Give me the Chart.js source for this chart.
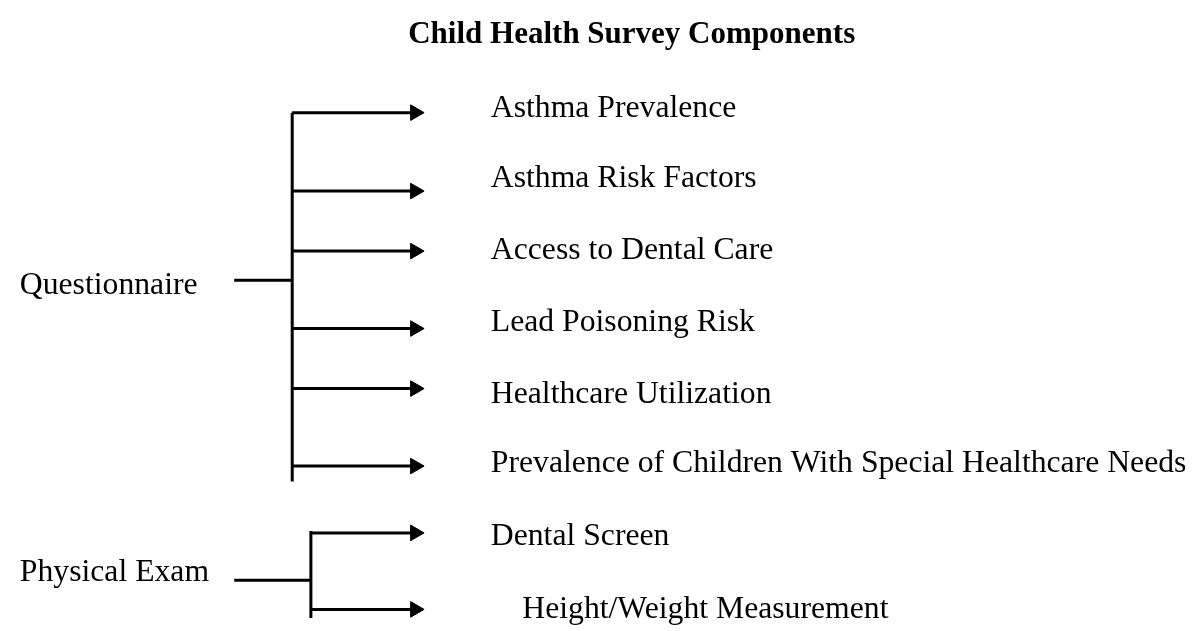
<!DOCTYPE html>
<html>
<head>
<meta charset="utf-8">
<title>Child Health Survey Components</title>
<script src="https://cdn.jsdelivr.net/npm/chart.js@4.4.1/dist/chart.umd.min.js"></script>
<style>
    html, body { margin: 0; padding: 0; background: #fff; }
    #wrap { width: 1196px; height: 631px; }
</style>
</head>
<body>
<div id="wrap"><canvas id="diagram" width="1196" height="631"></canvas></div>
<script>
const chartTitle = 'Child Health Survey Components';

// groups (left side) and the components each one points to
const groups = ['Questionnaire', 'Physical Exam'];
const questionnaireItems = [
    'Asthma Prevalence',
    'Asthma Risk Factors',
    'Access to Dental Care',
    'Lead Poisoning Risk',
    'Healthcare Utilization',
    'Prevalence of Children With Special Healthcare Needs'
];
const physicalItems = ['Dental Screen', 'Height/Weight Measurement'];

// vertical position of every arrow (y axis runs top -> bottom)
const questionnaireRows = [106, 187, 249, 329, 391, 471];
const physicalRows = [540, 619];
const groupRows = [279, 589];
// top / bottom of each bracket
const questionnaireSpan = [106, 487];
const physicalSpan = [538, 628];

// layout bits (kept apart from the data)
const W = 1196, H = 631;
const stubX = 228;
const trunkX = [287, 306];
const tipX = 421;
const headR = 9;
const itemX = 489;
const indentX = [0, 32];          // Height/Weight is pushed a little right
const labelShift = [5, -4, 8, 3, 15, 6, 12, 9];   // baseline below the arrow
const INK = '#000';
const SERIF = '"Liberation Serif", "Times New Roman", serif';

function seg(x1, y1, x2, y2) {
    return {
        type: 'scatter',
        data: [{x: x1, y: y1}, {x: x2, y: y2}],
        showLine: true,
        borderColor: INK,
        borderWidth: 3,
        pointRadius: 0,
        fill: false,
        clip: false
    };
}

const datasets = [];
const rowsByGroup = [questionnaireRows, physicalRows];
const spans = [questionnaireSpan, physicalSpan];
const heads = [];

rowsByGroup.forEach((rows, g) => {
    const tx = trunkX[g];
    datasets.push(seg(stubX, groupRows[g], tx, groupRows[g]));
    datasets.push(seg(tx, spans[g][0], tx, spans[g][1]));
    rows.forEach(y => {
        datasets.push(seg(tx, y, tipX - headR * 1.2, y));
        heads.push({x: tipX - headR, y: y});
    });
});

datasets.push({
    type: 'scatter',
    data: heads,
    pointStyle: 'triangle',
    rotation: 90,
    pointRadius: headR,
    pointBackgroundColor: INK,
    pointBorderColor: INK,
    pointBorderWidth: 1,
    clip: false
});

// text labels placed through the scales
const labelPlugin = {
    id: 'labels',
    afterDatasetsDraw(chart) {
        const {ctx, scales: {x, y}} = chart;
        ctx.save();
        ctx.fillStyle = INK;
        ctx.textBaseline = 'alphabetic';
        ctx.textAlign = 'left';

        ctx.font = 'bold 31px ' + SERIF;
        ctx.fillText(chartTitle, x.getPixelForValue(405), y.getPixelForValue(34));

        ctx.font = '31.7px ' + SERIF;
        ctx.fillText(groups[0], x.getPixelForValue(10), y.getPixelForValue(293));
        ctx.fillText(groups[1], x.getPixelForValue(10), y.getPixelForValue(590));

        const items = questionnaireItems.concat(physicalItems);
        const rows = questionnaireRows.concat(physicalRows);
        items.forEach((t, i) => {
            const indent = i >= questionnaireItems.length ? indentX[i - questionnaireItems.length] : 0;
            ctx.fillText(t, x.getPixelForValue(itemX + indent), y.getPixelForValue(rows[i] + labelShift[i]));
        });
        ctx.restore();
    }
};

new Chart(document.getElementById('diagram'), {
    type: 'scatter',
    data: {datasets},
    options: {
        responsive: false,
        animation: false,
        events: [],
        layout: {padding: 0},
        plugins: {
            legend: {display: false},
            tooltip: {enabled: false},
            title: {display: false}
        },
        scales: {
            x: {type: 'linear', min: 0, max: W, display: false},
            y: {type: 'linear', min: 0, max: H, reverse: true, display: false}
        }
    },
    plugins: [labelPlugin]
});
</script>
</body>
</html>
